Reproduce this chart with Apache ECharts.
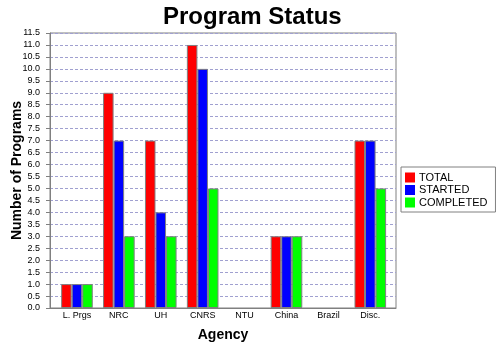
<!DOCTYPE html>
<html>
<head>
<meta charset="utf-8">
<script src="https://cdn.jsdelivr.net/npm/echarts@6/dist/echarts.min.js"></script>
<style>
html,body{margin:0;padding:0;background:#fff;}
#chart{width:500px;height:350px;}
</style>
</head>
<body>
<div id="chart"></div>
<script>
// Program counts per agency
const agencies = ['L. Prgs', 'NRC', 'UH', 'CNRS', 'NTU', 'China', 'Brazil', 'Disc.'];
const totalCounts = [1, 9, 7, 11, 0, 3, 0, 7];
const startedCounts = [1, 7, 4, 10, 0, 3, 0, 7];
const completedCounts = [1, 3, 3, 5, 0, 3, 0, 5];
const seriesNames = ['TOTAL', 'STARTED', 'COMPLETED'];
const seriesColors = ['#ff0000', '#0000ff', '#00ff00'];
const yMax = 11.5;
const yStep = 0.5;

const font = 'Liberation Sans, Arial, sans-serif';
const chart = echarts.init(document.getElementById('chart'), null, {renderer: 'canvas'});

const seriesData = [totalCounts, startedCounts, completedCounts];

// empty bars get no outline so nothing is drawn for them
const toItems = arr => arr.map(v => v === 0
  ? {value: v, itemStyle: {borderWidth: 0, opacity: 0}}
  : {value: v});

chart.setOption({
  animation: false,
  backgroundColor: '#ffffff',
  title: {
    text: 'Program Status',
    left: 158,
    top: 0,
    textStyle: {fontFamily: font, fontWeight: 'bold', fontSize: 24, color: '#000'}
  },
  legend: {
    data: seriesNames,
    orient: 'vertical',
    left: 401,
    top: 167,
    padding: [5, 8, 4, 4],
    itemWidth: 10,
    itemHeight: 10,
    itemGap: 1.5,
    borderColor: '#808080',
    borderWidth: 1,
    icon: 'rect',
    itemStyle: {borderWidth: 0},
    textStyle: {fontFamily: font, fontSize: 11, color: '#000', padding: [0, 0, 0, -1]}
  },
  grid: [
    // outer plot frame with value axis and grid lines
    {left: 50, right: 104, top: 33, bottom: 42, show: true, borderColor: '#808080', borderWidth: 1,
     backgroundColor: '#fff', containLabel: false, outerBoundsMode: 'none'},
    // category area, inset by the axis margins
    {left: 56, right: 108.75, top: 33, bottom: 42, containLabel: false, outerBoundsMode: 'none'}
  ],
  xAxis: [
    {
      gridIndex: 0, type: 'value', min: 0, max: 1,
      axisLine: {show: true, lineStyle: {color: '#808080'}},
      axisTick: {show: false}, axisLabel: {show: false}, splitLine: {show: false},
      name: 'Agency', nameLocation: 'middle', nameGap: 20, nameMoveOverlap: false,
      nameTextStyle: {fontFamily: font, fontWeight: 'bold', fontSize: 14, color: '#000'}
    },
    {
      gridIndex: 1, type: 'category', data: agencies,
      axisLine: {show: false}, axisTick: {show: false},
      axisLabel: {fontFamily: font, fontSize: 9, color: '#000', margin: 3, interval: 0}
    }
  ],
  yAxis: [
    {
      gridIndex: 0, type: 'value', min: 0, max: yMax, interval: yStep,
      name: 'Number of Programs', nameLocation: 'middle', nameGap: 26, nameRotate: 90,
      nameMoveOverlap: false,
      nameTextStyle: {fontFamily: font, fontWeight: 'bold', fontSize: 14, color: '#000'},
      axisLine: {show: true, lineStyle: {color: '#808080'}},
      axisTick: {show: true, length: 4, lineStyle: {color: '#808080'}},
      axisLabel: {fontFamily: font, fontSize: 9, color: '#000', margin: 10, formatter: v => v.toFixed(1)},
      splitLine: {show: true, lineStyle: {color: '#a0a0d0', type: [3, 2], width: 1}}
    },
    {
      gridIndex: 1, type: 'value', min: 0, max: yMax, show: false, splitLine: {show: false}
    }
  ],
  series: seriesNames.map((name, i) => ({
    name: name,
    type: 'bar',
    xAxisIndex: 1,
    yAxisIndex: 1,
    data: toItems(seriesData[i]),
    barGap: '0%',
    barCategoryGap: '24.6%',
    itemStyle: {color: seriesColors[i], borderColor: '#808080', borderWidth: 1}
  }))
});
</script>
</body>
</html>
